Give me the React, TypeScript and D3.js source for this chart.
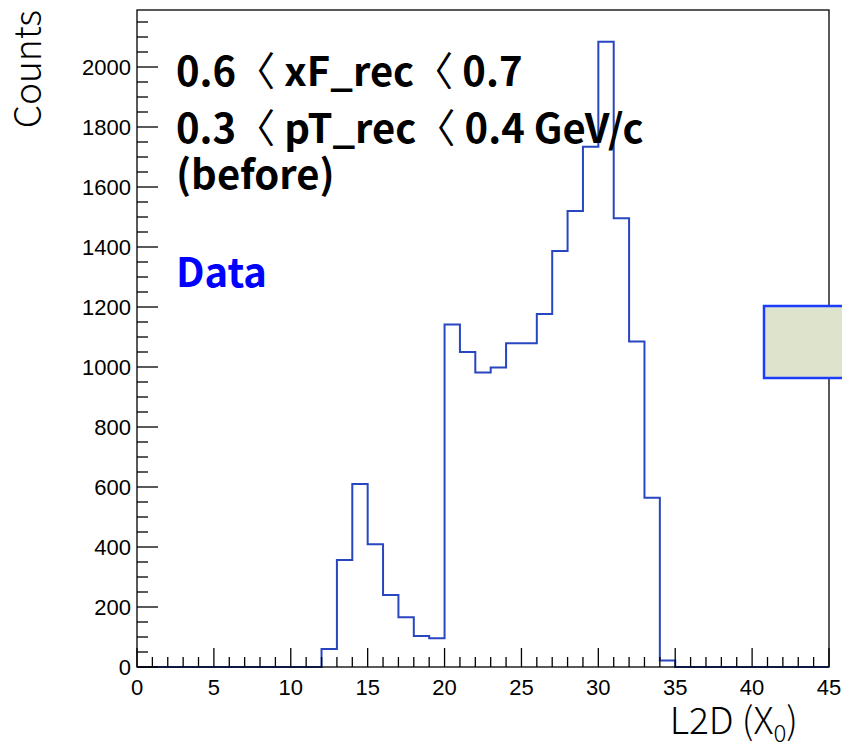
import React from "react";
import * as d3 from "d3";

// ---- data ----
const binLow: number[] = d3.range(0, 45); // bin lower edges, width 1
const counts: number[] = [
  0, 0, 0, 0, 0, 0, 0, 0, 0, 0, 0, 0,
  60, 357, 610, 409, 240, 166, 103, 96,
  1142, 1050, 982, 998, 1079, 1079, 1177, 1387, 1520, 1734, 2084, 1496, 1085, 564, 22,
  0, 0, 0, 0, 0, 0, 0, 0, 0, 0,
];
const xTicks: number[] = [0, 5, 10, 15, 20, 25, 30, 35, 40, 45];
const yTicks: number[] = [0, 200, 400, 600, 800, 1000, 1200, 1400, 1600, 1800, 2000];
// each line split at the "<" signs
const textLines: string[][] = [
  ["0.6 ", " xF_rec ", " 0.7"],
  ["0.3 ", " pT_rec ", " 0.4 GeV/c"],
  ["(before)"],
];
const ltSign = "〈";
const legendLabel = "Data";

const W = 842, H = 747;
const L = 137, R = 829, T = 10, B = 667;

export default function App() {
  const x = d3.scaleLinear().domain([0, 45]).range([L, R]);
  const y = d3.scaleLinear().domain([0, 2190]).range([B, T]);

  const pts: [number, number][] = [];
  binLow.forEach((lo, i) => {
    pts.push([lo, counts[i]]);
    pts.push([lo + 1, counts[i]]);
  });
  const line = d3.line<[number, number]>().x(d => x(d[0])).y(d => y(d[1]));

  const xMinor = d3.range(0, 46);
  const yMinor = d3.range(0, 2151, 50);
  const tickFont = "'Liberation Sans', Arial, sans-serif";
  const txtFont = "'Noto Sans CJK KR', 'Noto Sans', sans-serif";

  return (
    <svg width={W} height={H} style={{ position: "absolute", left: 0, top: 0, background: "#fff" }}>
      <rect x={0} y={0} width={W} height={H} fill="#fff" />
      {/* histogram */}
      <path d={line(pts) || ""} fill="none" stroke="#2846c0" strokeWidth={2} />
      {/* frame */}
      <rect x={L} y={T} width={R - L} height={B - T} fill="none" stroke="#000" strokeWidth={1.3} />
      {/* x ticks */}
      {xMinor.map(v => (
        <line key={"xm" + v} x1={x(v)} x2={x(v)} y1={B} y2={B - (v % 5 === 0 ? 19 : 10)} stroke="#000" strokeWidth={1.3} />
      ))}
      {/* y ticks */}
      {yMinor.map(v => (
        <line key={"ym" + v} x1={L} x2={L + (v % 200 === 0 ? 21 : 11)} y1={y(v)} y2={y(v)} stroke="#000" strokeWidth={1.3} />
      ))}
      {xTicks.map(v => (
        <text key={"xl" + v} x={x(v)} y={695} textAnchor="middle" fontFamily={tickFont} fontSize={22} fill="#000">{v}</text>
      ))}
      {yTicks.map(v => (
        <text key={"yl" + v} x={131} y={y(v) + 8} textAnchor="end" fontFamily={tickFont} fontSize={22} fill="#000">{v}</text>
      ))}
      {/* axis titles */}
      <text x={798} y={734} textAnchor="end" fontFamily={txtFont} fontWeight={300} fontSize={37} fill="#000">
        L2D (X<tspan fontSize={24} dy={8}>0</tspan><tspan dy={-8}>)</tspan>
      </text>
      <text transform="translate(41,10) rotate(-90)" textAnchor="end" fontFamily={txtFont} fontWeight={300} fontSize={37} fill="#000">Counts</text>
      {/* annotations */}
      {textLines.map((parts, i) => (
        <text key={"t" + i} x={176} y={[86, 143, 189][i]} fontFamily={txtFont} fontWeight="bold" fontSize={40} fill="#000">
          {parts.map((p, j) => (
            <React.Fragment key={j}>
              {j > 0 && <tspan dx={-10} fontWeight={400}>{ltSign}</tspan>}
              <tspan>{p}</tspan>
            </React.Fragment>
          ))}
        </text>
      ))}
      <text x={176} y={287} fontFamily={txtFont} fontWeight="bold" fontSize={40} fill="#0000ff">{legendLabel}</text>
      {/* stat box, clipped at the right edge */}
      <rect x={764} y={306} width={100} height={72} fill="#dee4cb" stroke="#1a3cff" strokeWidth={2.5} />
    </svg>
  );
}
